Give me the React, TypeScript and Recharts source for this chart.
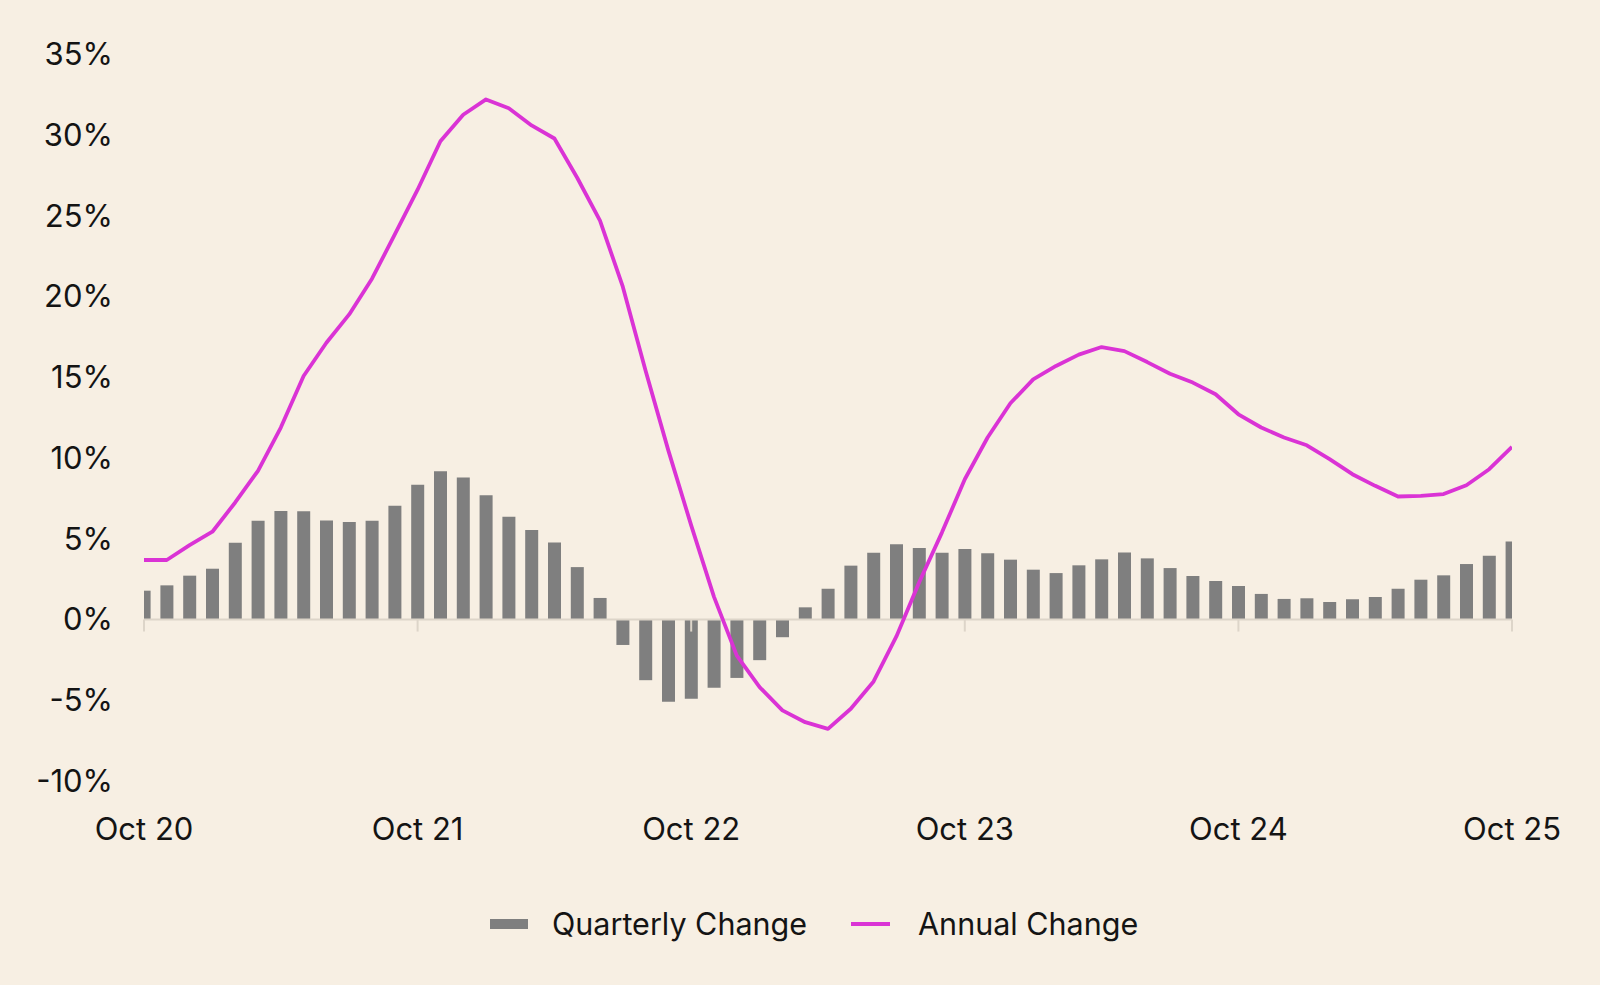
import React from 'react';
import { Bar, ComposedChart, Line, XAxis, YAxis, ReferenceLine, Legend } from 'recharts';

// monthly, Oct 2020 .. Oct 2025
const months = [
  'Oct 20', 'Nov 20', 'Dec 20',
  'Jan 21', 'Feb 21', 'Mar 21', 'Apr 21', 'May 21', 'Jun 21', 'Jul 21', 'Aug 21', 'Sep 21', 'Oct 21', 'Nov 21', 'Dec 21',
  'Jan 22', 'Feb 22', 'Mar 22', 'Apr 22', 'May 22', 'Jun 22', 'Jul 22', 'Aug 22', 'Sep 22', 'Oct 22', 'Nov 22', 'Dec 22',
  'Jan 23', 'Feb 23', 'Mar 23', 'Apr 23', 'May 23', 'Jun 23', 'Jul 23', 'Aug 23', 'Sep 23', 'Oct 23', 'Nov 23', 'Dec 23',
  'Jan 24', 'Feb 24', 'Mar 24', 'Apr 24', 'May 24', 'Jun 24', 'Jul 24', 'Aug 24', 'Sep 24', 'Oct 24', 'Nov 24', 'Dec 24',
  'Jan 25', 'Feb 25', 'Mar 25', 'Apr 25', 'May 25', 'Jun 25', 'Jul 25', 'Aug 25', 'Sep 25', 'Oct 25',
];

const quarterlyChange = [
  1.78, 2.11, 2.71, 3.14, 4.75, 6.11, 6.72, 6.69, 6.13, 6.03,
  6.11, 7.03, 8.33, 9.18, 8.79, 7.68, 6.35, 5.53, 4.77, 3.24,
  1.33, -1.58, -3.76, -5.1, -4.91, -4.23, -3.62, -2.52, -1.1, 0.75,
  1.9, 3.33, 4.13, 4.65, 4.42, 4.13, 4.36, 4.09, 3.7, 3.08,
  2.87, 3.35, 3.72, 4.15, 3.78, 3.18, 2.69, 2.38, 2.07, 1.58,
  1.27, 1.31, 1.08, 1.25, 1.39, 1.9, 2.46, 2.73, 3.43, 3.94,
  4.83,
];

const annualChange = [
  3.68, 3.68, 4.6, 5.43, 7.24, 9.2, 11.88, 15.07, 17.13, 18.88,
  21.09, 23.83, 26.6, 29.6, 31.24, 32.19, 31.64, 30.58, 29.77, 27.34,
  24.69, 20.6, 15.4, 10.45, 5.82, 1.4, -2.24, -4.19, -5.63, -6.36,
  -6.77, -5.53, -3.84, -1.05, 2.3, 5.39, 8.68, 11.26, 13.38, 14.86,
  15.69, 16.39, 16.86, 16.61, 15.93, 15.21, 14.66, 13.94, 12.7, 11.88,
  11.26, 10.78, 9.92, 8.99, 8.27, 7.61, 7.65, 7.76, 8.31, 9.3,
  10.68,
];

const yTicks = [-10, -5, 0, 5, 10, 15, 20, 25, 30, 35];
const xTicks = [0, 12, 24, 36, 48, 60];

const BG = '#F7EFE3';
const BAR = '#7F7F7F';
const LINE = '#DA33D5';
const AXIS = '#DDD5C9';
const TEXT = '#141414';
const FONT = 'Inter, "Liberation Sans", Arial, sans-serif';

const data = months.map((m, i) => ({
  idx: i,
  month: m,
  quarterly: quarterlyChange[i],
  annual: annualChange[i],
}));

const LegendContent = () => (
  <div style={{ display: 'flex', alignItems: 'center', fontFamily: FONT, fontSize: 30.5, color: TEXT }}>
    <span style={{ width: 38, height: 10, background: BAR, marginRight: 24 }} />
    <span>Quarterly Change</span>
    <span style={{ width: 39, height: 4, background: LINE, marginLeft: 44, marginRight: 28 }} />
    <span>Annual Change</span>
  </div>
);

export default function App() {
  return (
    <div style={{ position: 'absolute', left: 0, top: 0, width: 1600, height: 985, background: BG }}>
      <ComposedChart
        width={1600}
        height={985}
        data={data}
        margin={{ top: 54, right: 88, left: 0, bottom: 144 }}
      >
        <XAxis
          dataKey="idx"
          type="number"
          domain={[0, 60]}
          ticks={xTicks}
          allowDataOverflow
          tickFormatter={(v: number) => months[v]}
          axisLine={false}
          tickLine={false}
          tickSize={0}
          tickMargin={37}
          height={60}
          tick={{ fill: TEXT, fontSize: 31, fontFamily: FONT }}
        />
        <YAxis
          domain={[-10, 35]}
          ticks={yTicks}
          tickFormatter={(v: number) => `${v}%`}
          axisLine={false}
          tickLine={false}
          tickSize={0}
          tickMargin={31}
          width={144}
          tick={{ fill: TEXT, fontSize: 31, fontFamily: FONT }}
        />
        <Bar dataKey="quarterly" name="Quarterly Change" fill={BAR} barSize={13} isAnimationActive={false} />
        <ReferenceLine y={0} stroke={AXIS} strokeWidth={2} />
        {xTicks.map((t) => (
          <ReferenceLine
            key={t}
            segment={[{ x: t, y: 0 }, { x: t, y: -0.75 }]}
            stroke={AXIS}
            strokeWidth={2}
          />
        ))}
        <Line
          dataKey="annual"
          name="Annual Change"
          type="linear"
          stroke={LINE}
          strokeWidth={3.8}
          strokeLinejoin="round"
          dot={false}
          activeDot={false}
          isAnimationActive={false}
        />
        <Legend
          verticalAlign="middle"
          align="center"
          layout="horizontal"
          content={<LegendContent />}
          wrapperStyle={{ top: 905, left: 490, width: 700 }}
        />
      </ComposedChart>
    </div>
  );
}
